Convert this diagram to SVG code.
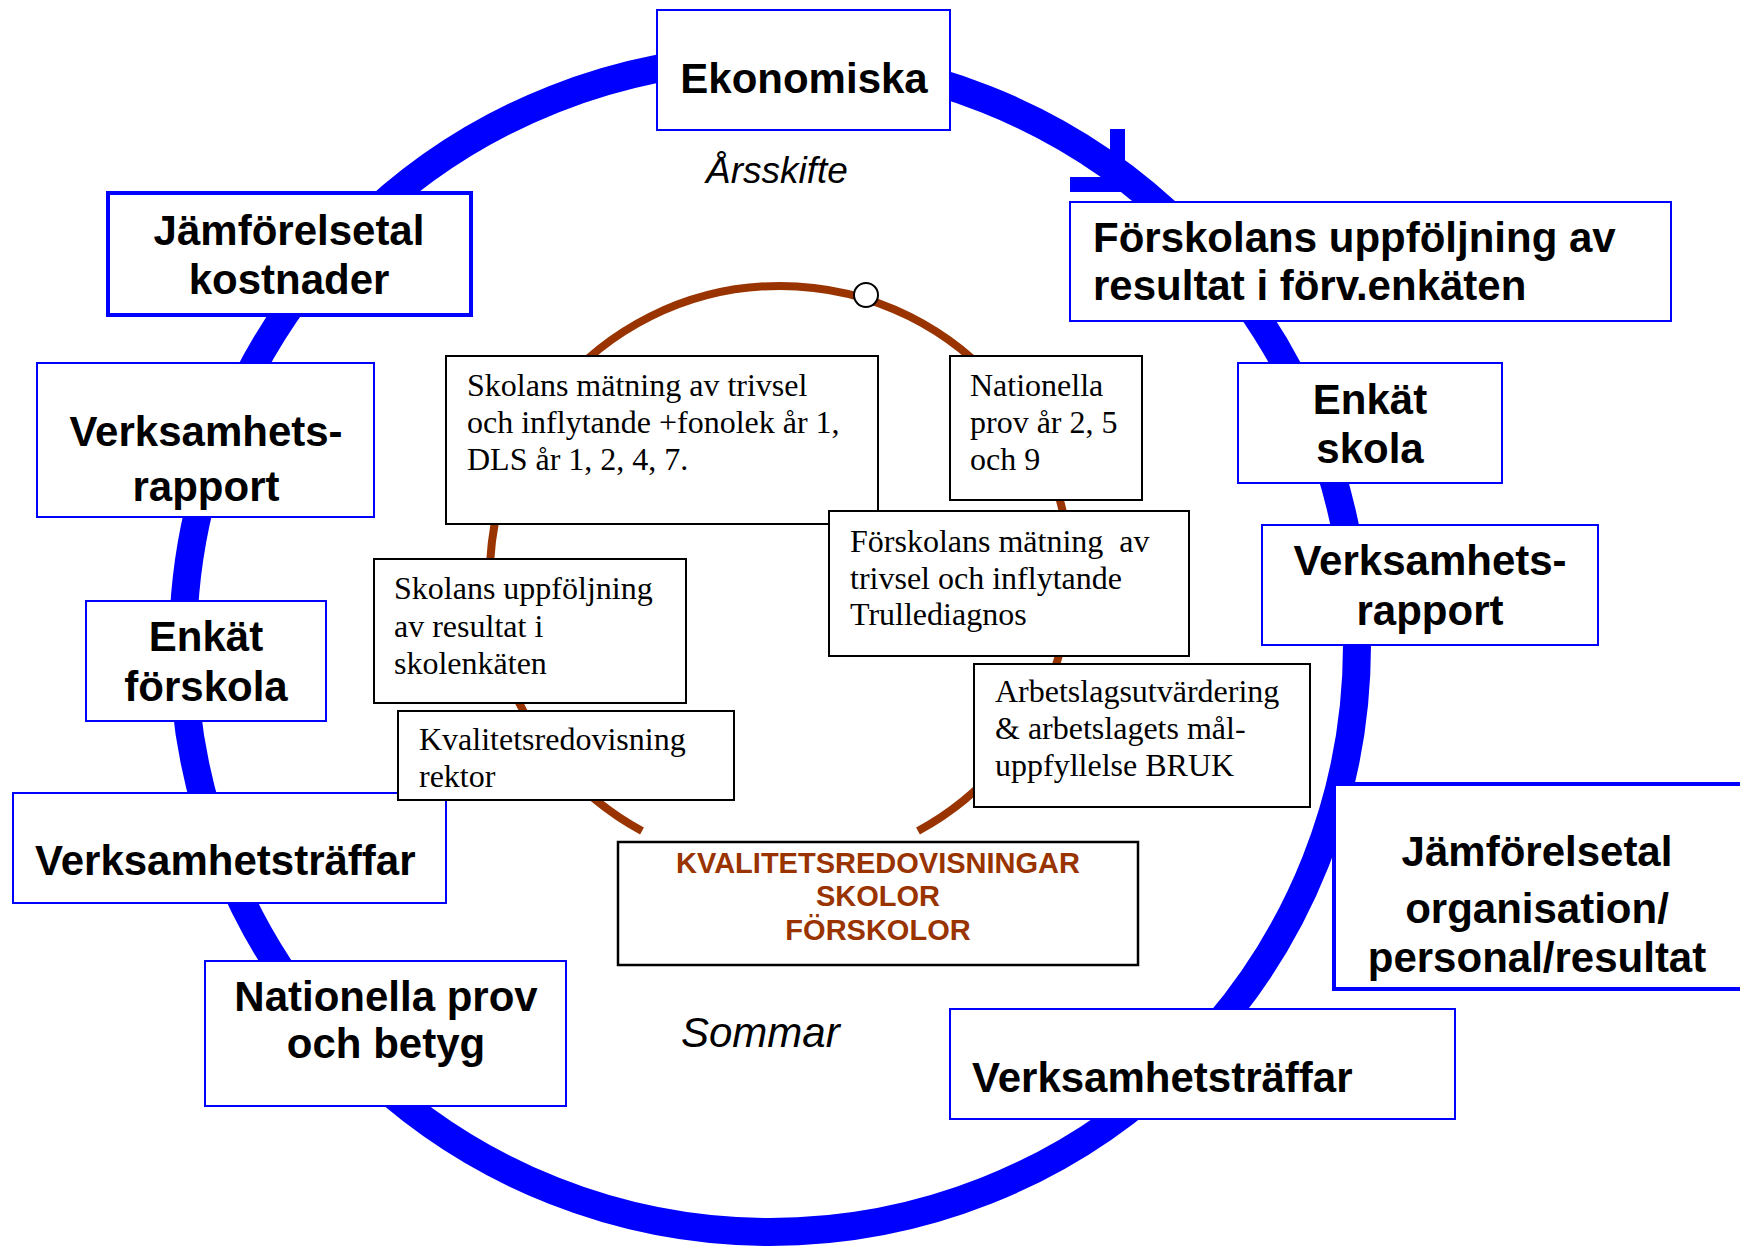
<svg xmlns="http://www.w3.org/2000/svg" width="1740" height="1247" viewBox="0 0 1740 1247">
<style>
.bb{fill:#fff;stroke:#0000FF;stroke-width:2}
.bt{fill:#fff;stroke:#0000FF;stroke-width:4}
.kb{fill:#fff;stroke:#000;stroke-width:2}
.t{font-family:"Liberation Sans",Arial,sans-serif;font-weight:bold;font-size:42px;fill:#000}
.m{text-anchor:middle}
.s{font-family:"Liberation Serif","Times New Roman",serif;font-size:32px;fill:#000}
.k{font-family:"Liberation Sans",Arial,sans-serif;font-weight:bold;font-size:29px;fill:#993300;text-anchor:middle}
.i{font-family:"Liberation Sans",Arial,sans-serif;font-style:italic;fill:#000}
</style>
<rect width="1740" height="1247" fill="#fff"/>
<g id="connectors">
  <circle cx="770" cy="645" r="587" fill="none" stroke="#0000FF" stroke-width="28"/>
  <path d="M1117.5,129 V184.5 H1070" fill="none" stroke="#0000FF" stroke-width="15" stroke-linejoin="miter"/>
  <path d="M642,831 A290,290 0 1 1 918,831" fill="none" stroke="#993300" stroke-width="8"/>
  <circle cx="866" cy="295" r="12" fill="#fff" stroke="#000" stroke-width="2"/>
</g>
<g id="ekonomiska"><rect class="bb" x="657" y="10" width="293" height="120"/><text class="t m" x="804" y="93">Ekonomiska</text></g>
<g id="jamforelsetal-kostnader"><rect class="bt" x="108" y="193" width="363" height="122"/><text class="t m" x="289" y="245">Jämförelsetal</text><text class="t m" x="289" y="294">kostnader</text></g>
<g id="forskolans-uppfoljning"><rect class="bb" x="1070" y="202" width="601" height="119"/><text class="t" x="1093" y="252">Förskolans uppföljning av</text><text class="t" x="1093" y="300">resultat i förv.enkäten</text></g>
<g id="verksamhetsrapport-left"><rect class="bb" x="37" y="363" width="337" height="154"/><text class="t m" x="206" y="446">Verksamhets-</text><text class="t m" x="206" y="501">rapport</text></g>
<g id="enkat-skola"><rect class="bb" x="1238" y="363" width="264" height="120"/><text class="t m" x="1370" y="414">Enkät</text><text class="t m" x="1370" y="463">skola</text></g>
<g id="verksamhetsrapport-right"><rect class="bb" x="1262" y="525" width="336" height="120"/><text class="t m" x="1430" y="575">Verksamhets-</text><text class="t m" x="1430" y="625">rapport</text></g>
<g id="enkat-forskola"><rect class="bb" x="86" y="601" width="240" height="120"/><text class="t m" x="206" y="651">Enkät</text><text class="t m" x="206" y="701">förskola</text></g>
<g id="verksamhetstraffar-left"><rect class="bb" x="13" y="793" width="433" height="110"/><text class="t" x="35" y="875">Verksamhetsträffar</text></g>
<g id="jamforelsetal-organisation"><rect class="bt" x="1334" y="784" width="420" height="205"/><text class="t m" x="1537" y="866">Jämförelsetal</text><text class="t m" x="1537" y="923">organisation/</text><text class="t m" x="1537" y="972">personal/resultat</text></g>
<g id="nationella-prov-betyg"><rect class="bb" x="205" y="961" width="361" height="145"/><text class="t m" x="386" y="1011">Nationella prov</text><text class="t m" x="386" y="1058">och betyg</text></g>
<g id="verksamhetstraffar-right"><rect class="bb" x="950" y="1009" width="505" height="110"/><text class="t" x="972" y="1092">Verksamhetsträffar</text></g>
<g id="skolans-matning"><rect class="kb" x="446" y="356" width="432" height="168"/><text class="s" x="467" y="396">Skolans mätning av trivsel</text><text class="s" x="467" y="433">och inflytande +fonolek år 1,</text><text class="s" x="467" y="470">DLS år 1, 2, 4, 7.</text></g>
<g id="nationella-prov-ar"><rect class="kb" x="950" y="356" width="192" height="144"/><text class="s" x="970" y="396">Nationella</text><text class="s" x="970" y="433">prov år 2, 5</text><text class="s" x="970" y="470">och 9</text></g>
<g id="skolans-uppfoljning"><rect class="kb" x="374" y="559" width="312" height="144"/><text class="s" x="394" y="599">Skolans uppföljning</text><text class="s" x="394" y="637">av resultat i</text><text class="s" x="394" y="674">skolenkäten</text></g>
<g id="forskolans-matning"><rect class="kb" x="829" y="511" width="360" height="145"/><text class="s" x="850" y="552" xml:space="preserve">Förskolans mätning  av</text><text class="s" x="850" y="589">trivsel och inflytande</text><text class="s" x="850" y="625">Trullediagnos</text></g>
<g id="kvalitetsredovisning-rektor"><rect class="kb" x="398" y="711" width="336" height="89"/><text class="s" x="419" y="750">Kvalitetsredovisning</text><text class="s" x="419" y="787">rektor</text></g>
<g id="arbetslagsutvardering"><rect class="kb" x="974" y="664" width="336" height="143"/><text class="s" x="995" y="702">Arbetslagsutvärdering</text><text class="s" x="995" y="739">&amp; arbetslagets mål-</text><text class="s" x="995" y="776">uppfyllelse BRUK</text></g>
<g id="kvalitetsredovisningar"><rect class="kb" x="618" y="842" width="520" height="123" style="stroke-width:2.5"/><text class="k" x="878" y="873">KVALITETSREDOVISNINGAR</text><text class="k" x="878" y="906">SKOLOR</text><text class="k" x="878" y="940">FÖRSKOLOR</text></g>
<text class="i" x="706" y="183" font-size="37">Årsskifte</text>
<text class="i" x="681" y="1047" font-size="42">Sommar</text>
</svg>
